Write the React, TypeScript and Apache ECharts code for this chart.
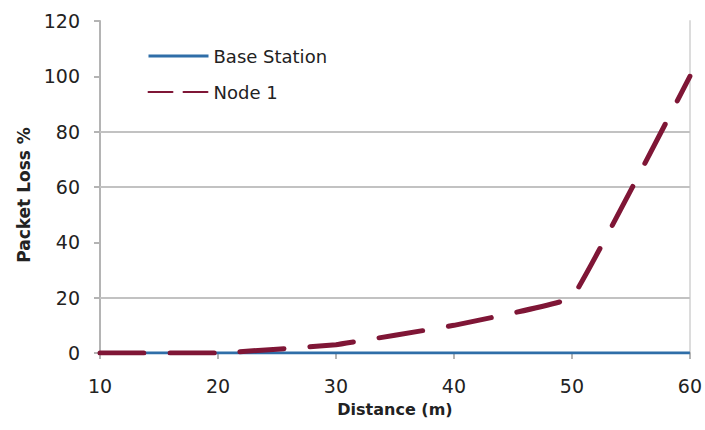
import React, { useEffect, useRef } from "react";
import * as echarts from "echarts";

const distances = [10, 20, 30, 40, 50, 60];
const baseStation = [0, 0, 0, 0, 0, 0];
const node1 = [0, 0, 3, 10, 20, 100];
const seriesNames = ["Base Station", "Node 1"];
const gridValues = [20, 60, 80];
const xAxisTitle = "Distance (m)";
const yAxisTitle = "Packet Loss %";

const FONT = "DejaVu Sans";

export default function App() {
  const ref = useRef<HTMLDivElement>(null);
  useEffect(() => {
    if (!ref.current) return;
    const chart = echarts.init(ref.current, null, { renderer: "svg" });
    chart.setOption({
      animation: false,
      backgroundColor: "#ffffff",
      grid: { left: 100, right: 13, top: 21, bottom: 77, containLabel: false },
      legend: {
        orient: "vertical",
        left: 142,
        top: 42,
        itemWidth: 60,
        itemHeight: 18,
        itemGap: 18,
        textStyle: { fontFamily: FONT, fontSize: 18, color: "#222" },
        itemStyle: { opacity: 0 },
        data: [
          { name: seriesNames[0], itemStyle: { opacity: 0 }, lineStyle: { width: 3, type: "solid", opacity: 1 } },
          { name: seriesNames[1], itemStyle: { opacity: 0 }, lineStyle: { width: 2, type: [24, 11], opacity: 1 } },
        ],
      },
      xAxis: {
        type: "value",
        min: 10,
        max: 60,
        interval: 10,
        name: xAxisTitle,
        nameLocation: "middle",
        nameGap: 48,
        nameTextStyle: { fontFamily: FONT, fontSize: 16, fontWeight: "bold", color: "#222" },
        axisLine: { show: true, lineStyle: { color: "#b4b4b4", width: 2 } },
        axisTick: { show: true, length: 6, lineStyle: { color: "#b4b4b4", width: 2 } },
        axisLabel: { fontFamily: FONT, fontSize: 19, color: "#222", margin: 23 },
        splitLine: { show: false },
      },
      yAxis: [
        {
          type: "value",
          min: 0,
          max: 120,
          interval: 20,
          name: yAxisTitle,
          nameLocation: "middle",
          nameRotate: 90,
          nameGap: 68,
          nameTextStyle: { fontFamily: FONT, fontSize: 17, fontWeight: "bold", color: "#222", padding: [0, 16, 0, 0] },
          axisLine: { show: true, lineStyle: { color: "#b4b4b4", width: 2 } },
          axisTick: { show: true, length: 6, lineStyle: { color: "#b4b4b4", width: 2 } },
          axisLabel: { fontFamily: FONT, fontSize: 19, color: "#222", margin: 20 },
          splitLine: { show: false },
        },
        {
          type: "value",
          min: 0,
          max: 120,
          interval: 20,
          position: "right",
          axisLine: { show: true, lineStyle: { color: "#dcdcdc", width: 2 } },
          axisTick: { show: false },
          axisLabel: { show: false },
          splitLine: { show: false },
        },
      ],
      series: [
        {
          name: seriesNames[0],
          type: "line",
          symbol: "none",
          data: distances.map((d, i) => [d, baseStation[i]]),
          lineStyle: { color: "#2f6ea8", width: 3 },
          itemStyle: { color: "#2f6ea8" },
          z: 2,
          markLine: {
            silent: true,
            symbol: "none",
            label: { show: false },
            lineStyle: { color: "#c2c2c2", width: 2, type: "solid" },
            data: gridValues.map((v) => ({ yAxis: v })),
            z: 1,
          },
        },
        {
          name: seriesNames[1],
          type: "line",
          symbol: "none",
          smooth: 0.06,
          data: distances.map((d, i) => [d, node1[i]]),
          lineStyle: { color: "#7f1636", width: 5, type: [44, 26], cap: "round" },
          itemStyle: { color: "#7f1636" },
          z: 3,
        },
      ],
    });
    return () => chart.dispose();
  }, []);
  return <div ref={ref} style={{ width: 705, height: 430, position: "absolute", left: 0, top: 0 }} />;
}
